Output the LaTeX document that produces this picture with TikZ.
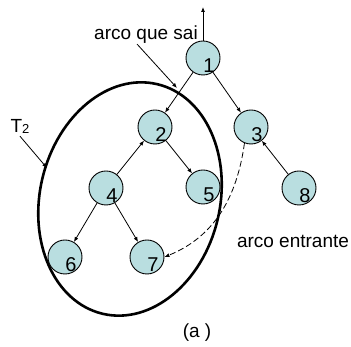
\documentclass[tikz,border=0pt]{standalone}
\usepackage{fontspec}
\setmainfont{Liberation Sans}
\usetikzlibrary{arrows.meta}
\definecolor{nodecyan}{HTML}{B9DEE0}

\begin{document}
\begin{tikzpicture}[x=1pt, y=1pt,
      vert/.style={circle, draw=black, fill=nodecyan, line width=0.9pt, minimum size=34pt, inner sep=0pt,
        label={[font=\fontsize{20}{22}\selectfont, inner sep=0pt, xshift=6pt, yshift=-8pt]center:#1}},
      edge/.style={-{Latex[length=5pt, width=4pt]}, line width=0.8pt},
      txt/.style={font=\fontsize{19}{22}\selectfont, inner sep=0pt},
    ]
    \useasboundingbox (0,0) rectangle (351,347);

    % subtree boundary
    \draw[line width=2.6pt] (130,148) ellipse [x radius=118, y radius=90, rotate=76.5];

    \node[vert={1}] (n1) at (203,289) {};
    \node[vert={2}] (n2) at (155,220) {};
    \node[vert={3}] (n3) at (251,220) {};
    \node[vert={4}] (n4) at (106,159) {};
    \node[vert={5}] (n5) at (203,160) {};
    \node[vert={8}] (n8) at (299,159) {};
    \node[vert={6}] (n6) at (65,90) {};
    \node[vert={7}] (n7) at (147,90) {};

    \node[txt] (lblout) at (146,312) {arco que sai};
    \node[txt] (lblin) at (293,106) {arco entrante};
    \node[txt] (lblT) at (20,221) {T\raisebox{-1pt}{\fontsize{13}{15}\selectfont 2}};
    \node[txt] (cap) at (197,14) {(a )};

    \coordinate (top) at (203,340);
    \coordinate (tipout) at (177,259);
    \coordinate (tipT) at (47,179);

    \draw[edge] (n1) -- (top);
    \draw[edge] (n1) -- (n2);
    \draw[edge] (n1) -- (n3);
    \draw[edge] (n4) -- (n2);
    \draw[edge] (n2) -- (n5);
    \draw[edge] (n4) -- (n6);
    \draw[edge] (n4) -- (n7);
    \draw[edge] (n8) -- (n3);
    \draw[edge, dashed, dash pattern=on 6pt off 3pt] (n3.-112) to[out=-98, in=22] (n7.east);

    \draw[edge] ([xshift=-9pt]lblout.south) -- (tipout);
    \draw[edge] ([yshift=-3pt]lblT.south) -- (tipT);
  \end{tikzpicture}
\end{document}
